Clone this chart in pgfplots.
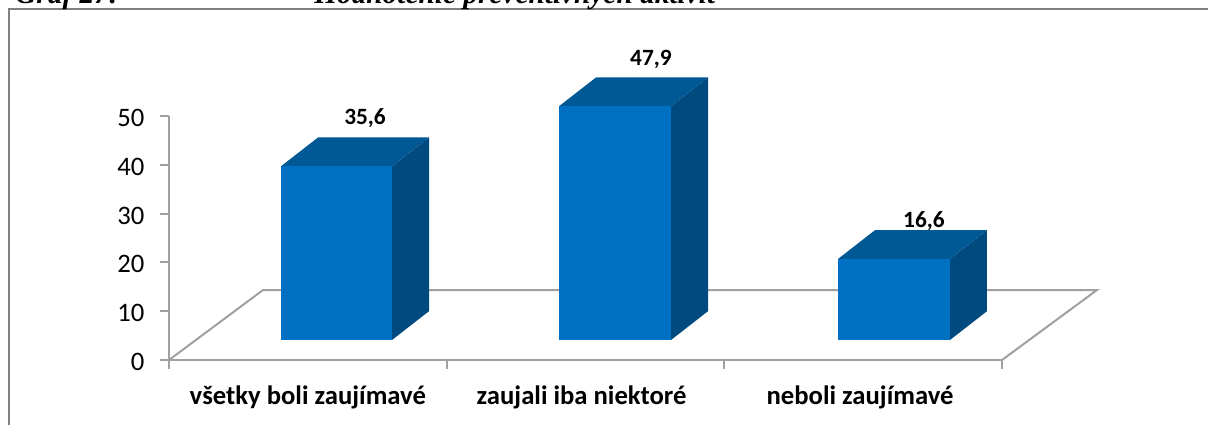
\documentclass[border=0pt]{standalone}
\usepackage{fontspec}
\setmainfont{Carlito}
\newfontfamily\titlefont{Liberation Serif}
\usepackage{pgfplots}
\pgfplotsset{compat=1.18}
\definecolor{front}{HTML}{0070C3}
\definecolor{topf}{HTML}{005994}
\definecolor{sidef}{HTML}{004A80}
\definecolor{axgrey}{HTML}{A0A0A0}
\definecolor{framegrey}{HTML}{808080}
\begin{document}
\begin{tikzpicture}[x=0.75pt,y=0.75pt]
\path[use as bounding box,clip] (0,0) rectangle (1208,425);
% frame and cut-off caption
\draw[framegrey,line width=1.5pt] (9,0) -- (9,415.5) -- (1208,415.5);
\node[anchor=base west,inner sep=0pt,font=\titlefont\bfseries\itshape\fontsize{22}{26}\selectfont] at (15,421.5) {Graf  27:};
\node[anchor=base west,inner sep=0pt,font=\titlefont\bfseries\itshape\fontsize{22}{26}\selectfont] at (314,421.5) {Hodnotenie preventívnych aktivít};
% axes with the floor
\begin{axis}[
  at={(126.75pt,48.75pt)},anchor=south west,
  scale only axis,width=624.75pt,height=183pt,
  xmin=0,xmax=3,ymin=0,ymax=50,clip=false,
  axis x line*=bottom,axis y line*=left,
  axis line style={axgrey,line width=1.5pt,-},
  every tick/.style={axgrey,line width=1.5pt},
  tick align=outside,major tick length=6.5pt,
  xtick={0,1,2,3},xticklabels={},
  extra x ticks={0.5,1.486,2.489},
  extra x tick labels={všetky boli zaujímavé,zaujali iba niektoré,neboli zaujímavé},
  extra x tick style={major tick length=0pt,tick label style={font=\bfseries\fontsize{20}{24}\selectfont,yshift=-16pt}},
  ytick={0,10,20,30,40,50},
  yticklabel style={xshift=-8.5pt,yshift=-1.5pt,font=\fontsize{20}{24}\selectfont},
  /pgf/number format/assume math mode=true,
]
\addplot[axgrey,line width=1.5pt] coordinates {(0,0)(0.3385,14.34)(3.342,14.34)(3,0)};
\end{axis}
% bars: baseline of the front faces sits 4.1 units above the axis
\begin{axis}[
  at={(126.75pt,48.75pt)},anchor=south west,
  scale only axis,width=624.75pt,height=183pt,
  xmin=0,xmax=3,ymin=-4.1,ymax=45.9,clip=false,hide axis,
  /pgf/number format/assume math mode=true,
  /pgf/number format/use comma,/pgf/number format/fixed,
  /pgf/number format/precision=1,/pgf/number format/fixed zerofill,
]
\addplot[fill=sidef,draw=none] coordinates {(0.8031,0)(0.9364,5.9)(0.9364,41.5)(0.8031,35.6)} --cycle;
\addplot[fill=topf,draw=none] coordinates {(0.4034,35.6)(0.5366,41.5)(0.9364,41.5)(0.8031,35.6)} --cycle;
\addplot[ybar,bar width=83.6pt,bar shift=0pt,fill=front,draw=none,
  nodes near coords,every node near coord/.append style={anchor=center,text=black,font=\bfseries\fontsize{17.5}{20}\selectfont,xshift=21.4pt,yshift=36pt}]
  coordinates {(0.6032,35.6)};
\addplot[fill=sidef,draw=none] coordinates {(1.8079,0)(1.9412,5.9)(1.9412,53.8)(1.8079,47.9)} --cycle;
\addplot[fill=topf,draw=none] coordinates {(1.4045,47.9)(1.5378,53.8)(1.9412,53.8)(1.8079,47.9)} --cycle;
\addplot[ybar,bar width=84pt,bar shift=0pt,fill=front,draw=none,
  nodes near coords,every node near coord/.append style={anchor=center,text=black,font=\bfseries\fontsize{17.5}{20}\selectfont,xshift=27pt,yshift=35.2pt}]
  coordinates {(1.6062,47.9)};
\addplot[fill=sidef,draw=none] coordinates {(2.8127,0)(2.9459,5.9)(2.9459,22.5)(2.8127,16.6)} --cycle;
\addplot[fill=topf,draw=none] coordinates {(2.4093,16.6)(2.5426,22.5)(2.9459,22.5)(2.8127,16.6)} --cycle;
\addplot[ybar,bar width=84pt,bar shift=0pt,fill=front,draw=none,
  nodes near coords,every node near coord/.append style={anchor=center,text=black,font=\bfseries\fontsize{17.5}{20}\selectfont,xshift=22.5pt,yshift=28.5pt}]
  coordinates {(2.611,16.6)};
\end{axis}
\end{tikzpicture}
\end{document}
